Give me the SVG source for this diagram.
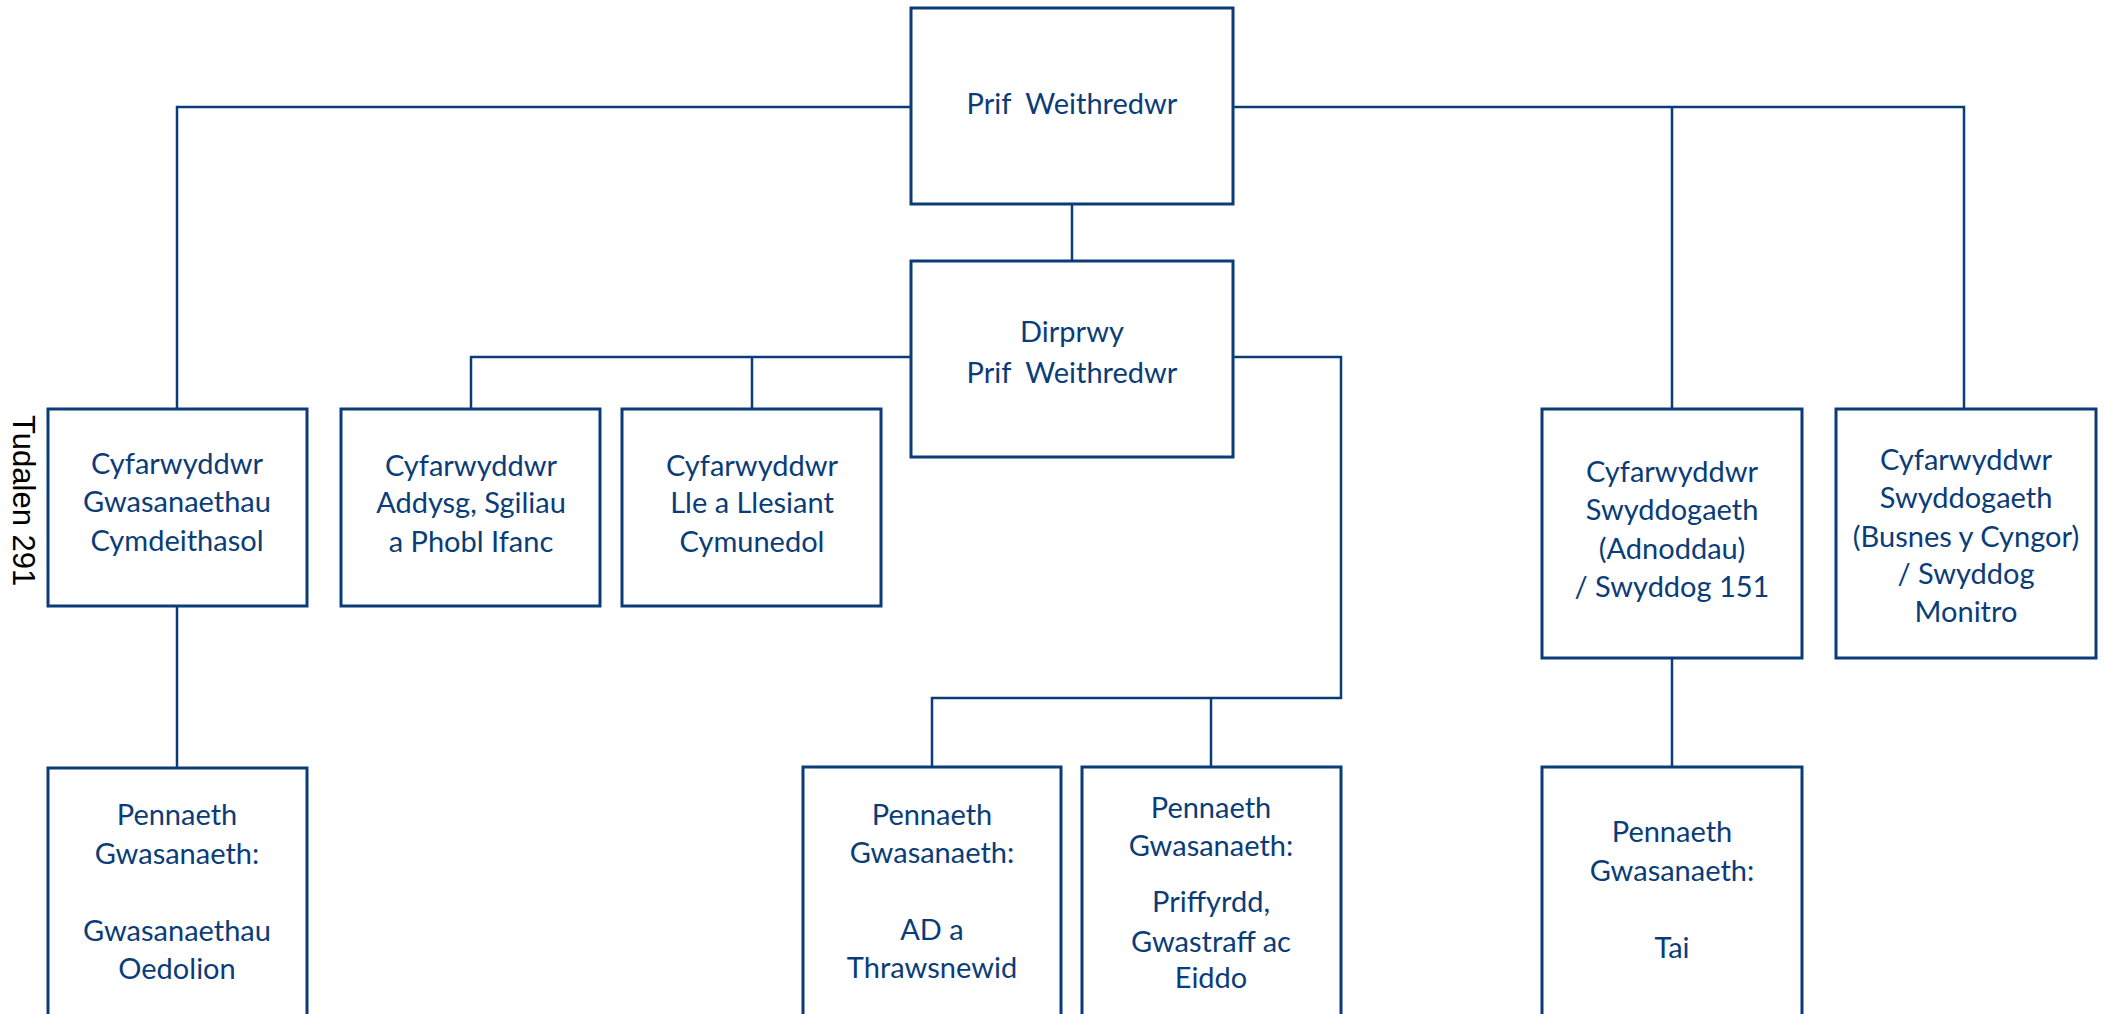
<svg xmlns="http://www.w3.org/2000/svg" width="2105" height="1014" viewBox="0 0 2105 1014">
<style>
.box{fill:#ffffff;stroke:#0a3d78;stroke-width:3}
.lbl{font-family:Lato,"Open Sans","Liberation Sans",sans-serif;font-size:29px;fill:#0a3d78;text-anchor:middle}
.con{fill:none;stroke:#0a3d78;stroke-width:2.5}
.side{font-family:"Liberation Sans",Arial,sans-serif;font-size:31px;fill:#000000}
</style>
<rect x="0" y="0" width="2105" height="1014" fill="#ffffff"/>
<g id="connectors">
<path class="con" d="M177,409 V107 H911"/>
<path class="con" d="M1233,107 H1964 V409"/>
<path class="con" d="M1672,107 V409"/>
<path class="con" d="M1072,204 V261"/>
<path class="con" d="M911,357 H471 V409"/>
<path class="con" d="M752,357 V409"/>
<path class="con" d="M1233,357 H1341 V698 H932 V767"/>
<path class="con" d="M1211,698 V767"/>
<path class="con" d="M177,606 V768"/>
<path class="con" d="M1672,658 V767"/>
</g>
<g id="n-prif">
<rect class="box" x="911" y="8" width="322" height="196"/>
<text class="lbl" x="1072" y="114">Prif&#160; Weithredwr</text>
</g>
<g id="n-dirprwy">
<rect class="box" x="911" y="261" width="322" height="196"/>
<text class="lbl" x="1072" y="342">Dirprwy</text>
<text class="lbl" x="1072" y="383">Prif&#160; Weithredwr</text>
</g>
<g id="n-cymdeithasol">
<rect class="box" x="48" y="409" width="259" height="197"/>
<text class="lbl" x="177" y="474">Cyfarwyddwr</text>
<text class="lbl" x="177" y="512">Gwasanaethau</text>
<text class="lbl" x="177" y="551">Cymdeithasol</text>
</g>
<g id="n-addysg">
<rect class="box" x="341" y="409" width="259" height="197"/>
<text class="lbl" x="471" y="476">Cyfarwyddwr</text>
<text class="lbl" x="471" y="513">Addysg, Sgiliau</text>
<text class="lbl" x="471" y="552">a Phobl Ifanc</text>
</g>
<g id="n-lle">
<rect class="box" x="622" y="409" width="259" height="197"/>
<text class="lbl" x="752" y="476">Cyfarwyddwr</text>
<text class="lbl" x="752" y="513">Lle a Llesiant</text>
<text class="lbl" x="752" y="552">Cymunedol</text>
</g>
<g id="n-adnoddau">
<rect class="box" x="1542" y="409" width="260" height="249"/>
<text class="lbl" x="1672" y="482">Cyfarwyddwr</text>
<text class="lbl" x="1672" y="520">Swyddogaeth</text>
<text class="lbl" x="1672" y="559">(Adnoddau)</text>
<text class="lbl" x="1672" y="597">/ Swyddog 151</text>
</g>
<g id="n-busnes">
<rect class="box" x="1836" y="409" width="260" height="249"/>
<text class="lbl" x="1966" y="470">Cyfarwyddwr</text>
<text class="lbl" x="1966" y="508">Swyddogaeth</text>
<text class="lbl" x="1966" y="547">(Busnes y Cyngor)</text>
<text class="lbl" x="1966" y="584">/ Swyddog</text>
<text class="lbl" x="1966" y="622">Monitro</text>
</g>
<g id="n-oedolion">
<rect class="box" x="48" y="768" width="259" height="270"/>
<text class="lbl" x="177" y="825">Pennaeth</text>
<text class="lbl" x="177" y="864">Gwasanaeth:</text>
<text class="lbl" x="177" y="941">Gwasanaethau</text>
<text class="lbl" x="177" y="979">Oedolion</text>
</g>
<g id="n-ad">
<rect class="box" x="803" y="767" width="258" height="270"/>
<text class="lbl" x="932" y="825">Pennaeth</text>
<text class="lbl" x="932" y="863">Gwasanaeth:</text>
<text class="lbl" x="932" y="940">AD a</text>
<text class="lbl" x="932" y="978">Thrawsnewid</text>
</g>
<g id="n-priffyrdd">
<rect class="box" x="1082" y="767" width="259" height="270"/>
<text class="lbl" x="1211" y="818">Pennaeth</text>
<text class="lbl" x="1211" y="856">Gwasanaeth:</text>
<text class="lbl" x="1211" y="912">Priffyrdd,</text>
<text class="lbl" x="1211" y="952">Gwastraff ac</text>
<text class="lbl" x="1211" y="988">Eiddo</text>
</g>
<g id="n-tai">
<rect class="box" x="1542" y="767" width="260" height="270"/>
<text class="lbl" x="1672" y="842">Pennaeth</text>
<text class="lbl" x="1672" y="881">Gwasanaeth:</text>
<text class="lbl" x="1672" y="958">Tai</text>
</g>
<text class="side" transform="translate(13,415) rotate(90)">Tudalen 291</text>
</svg>
